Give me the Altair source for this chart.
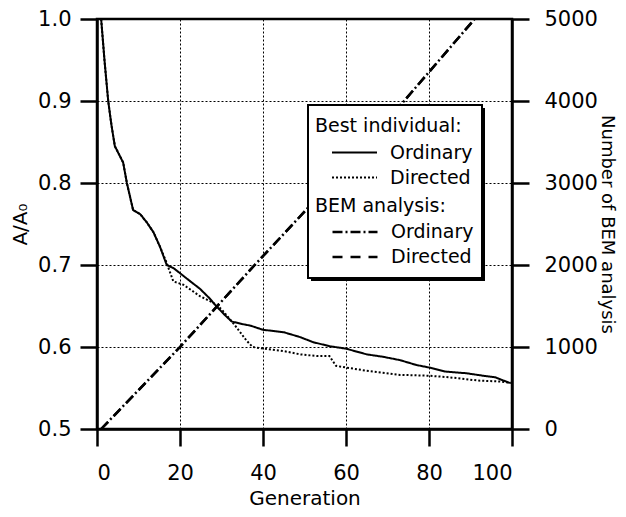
import altair as alt
import pandas as pd

# ---- data ----
gen_best_ord = [1.0, 1.8, 2.7, 3.5, 4.3, 5.1, 6.3, 7.2, 8.7, 10.4, 12.0, 13.6, 15.2, 16.8, 18.5,
                20.0, 22.5, 24.8, 27.0, 28.9, 31.0, 32.5, 35.0, 37.0, 40.0, 45.0, 49.0, 52.0, 56.0, 60.0,
                65.0, 69.0, 73.0, 77.0, 80.0, 84.0, 89.0, 93.0, 96.0, 99.5]
a_best_ord = [1.0, 0.95, 0.90, 0.87, 0.845, 0.837, 0.825, 0.80, 0.767, 0.762, 0.752, 0.740, 0.722, 0.700, 0.696,
              0.690, 0.680, 0.671, 0.660, 0.649, 0.638, 0.631, 0.628, 0.626, 0.621, 0.618, 0.612, 0.606, 0.601, 0.598,
              0.591, 0.588, 0.584, 0.578, 0.575, 0.570, 0.568, 0.565, 0.563, 0.556]

gen_best_dir = [1.0, 1.8, 2.7, 3.5, 4.3, 5.1, 6.3, 7.2, 8.7, 10.4, 12.0, 13.6, 15.2, 16.6, 18.4,
                20.8, 24.8, 28.0, 30.0, 33.0, 36.0, 37.5, 40.0, 45.0, 49.0, 53.0, 56.0, 57.6, 60.0, 65.0,
                73.0, 80.0, 85.0, 92.0, 97.0, 100.0]
a_best_dir = [1.0, 0.95, 0.90, 0.87, 0.845, 0.837, 0.825, 0.80, 0.767, 0.762, 0.752, 0.740, 0.722, 0.705, 0.680,
              0.676, 0.662, 0.654, 0.646, 0.628, 0.608, 0.600, 0.598, 0.595, 0.591, 0.589, 0.589, 0.577, 0.575, 0.571,
              0.566, 0.565, 0.563, 0.559, 0.558, 0.556]

gen_bem = [1, 20, 38, 50, 74, 91]
bem_ord = [0, 1000, 2000, 2650, 4000, 5000]
bem_dir = [0, 1000, 2000, 2650, 4000, 5000]

best_labels = ["Ordinary", "Directed"]
bem_labels = ["Ordinary", "Directed"]
x_ticks = [0, 20, 40, 60, 80, 100]
y_left_ticks = [0.5, 0.6, 0.7, 0.8, 0.9, 1.0]
y_right_ticks = [0, 1000, 2000, 3000, 4000, 5000]

FONT = "DejaVu Sans"

df_best = pd.concat([
    pd.DataFrame({"gen": gen_best_ord, "value": a_best_ord, "best": best_labels[0]}),
    pd.DataFrame({"gen": gen_best_dir, "value": a_best_dir, "best": best_labels[1]}),
])
df_bem = pd.concat([
    pd.DataFrame({"gen": gen_bem, "value": bem_ord, "bem": bem_labels[0]}),
    pd.DataFrame({"gen": gen_bem, "value": bem_dir, "bem": bem_labels[1]}),
])

x_enc = alt.X("gen:Q", scale=alt.Scale(domain=[0, 100], nice=False, zero=False),
              axis=alt.Axis(values=x_ticks, title="Generation", grid=True, labelPadding=16,
                            titlePadding=5))

legend_common = dict(orient="none", symbolSize=2025, clipHeight=20, rowPadding=5, titlePadding=6.5,
                     symbolOffset=16, labelOffset=12, titleFontSize=19, labelFontSize=19,
                     titleFontWeight="normal", titleFont=FONT, labelFont=FONT, titleColor="black",
                     labelColor="black", symbolStrokeColor="black", padding=0, titleLimit=300)

left = alt.Chart(df_best).mark_line(color="black", strokeWidth=2).encode(
    x=x_enc,
    y=alt.Y("value:Q", scale=alt.Scale(domain=[0.5, 1.0], nice=False, zero=False),
            axis=alt.Axis(values=y_left_ticks, format=".1f", title="A/A₀", grid=True,
                          labelPadding=9, titlePadding=7, titleFontSize=20)),
    strokeDash=alt.StrokeDash("best:N", scale=alt.Scale(domain=best_labels, range=[[1, 0], [2, 2]]),
                              legend=alt.Legend(title="Best individual:", legendX=218, legendY=98,
                                                symbolStrokeWidth=2, **legend_common)),
)

right = alt.Chart(df_bem).mark_line(color="black", strokeWidth=2.5).encode(
    x=x_enc,
    y=alt.Y("value:Q", scale=alt.Scale(domain=[0, 5000], nice=False, zero=False),
            axis=alt.Axis(orient="right", values=y_right_ticks, format="d",
                          title="Number of BEM analysis",
                          grid=False, labelPadding=15, titlePadding=0, titleFontSize=18)),
    strokeDash=alt.StrokeDash("bem:N", scale=alt.Scale(domain=bem_labels, range=[[10, 3, 2, 3], [10, 8]]),
                              legend=alt.Legend(title="BEM analysis:", legendX=218, legendY=177.5,
                                                symbolStrokeWidth=2.5, **legend_common)),
)

one = pd.DataFrame({"k": [0]})
shadow = alt.Chart(one).mark_rect(color="black").encode(
    x=alt.value(214), x2=alt.value(388), y=alt.value(89), y2=alt.value(262))
box = alt.Chart(one).mark_rect(fill="white", stroke="black", strokeWidth=2).encode(
    x=alt.value(211), x2=alt.value(385), y=alt.value(86), y2=alt.value(259))

chart = alt.layer(left, right, shadow, box).resolve_scale(
    y="independent", strokeDash="independent"
).properties(
    width=415, height=410,
    autosize=alt.AutoSizeParams(type="none"),
    padding={"left": 89, "top": 11, "right": 106, "bottom": 80},
).configure_view(
    stroke="black", strokeWidth=2.5
).configure_axis(
    domainColor="black", tickColor="black", labelColor="black", titleColor="black",
    labelFont=FONT, titleFont=FONT, labelFontSize=21, titleFontSize=20, titleFontWeight="normal",
    tickSize=17, tickWidth=2.5, domainWidth=2.5,
    gridColor="black", gridDash=[2, 2], gridWidth=1, gridOpacity=1,
)

chart.save("out.html", embed_options={"renderer": "svg", "actions": False})
